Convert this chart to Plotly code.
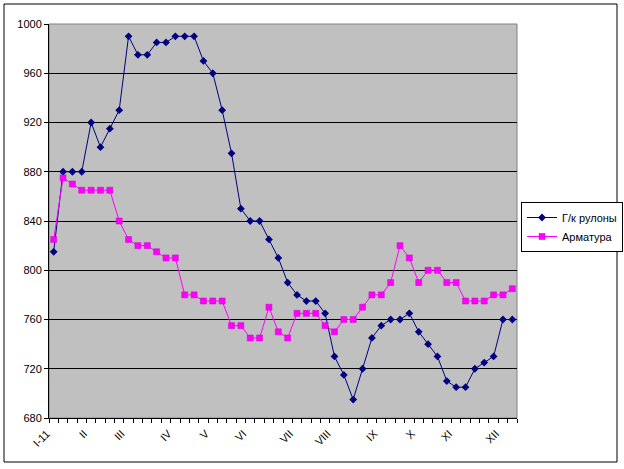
import plotly.graph_objects as go

# Data (weekly, 2011)
week_index = list(range(50))
hot_rolled = [815, 880, 880, 880, 920, 900, 915, 930, 990, 975,
              975, 985, 985, 990, 990, 990, 970, 960, 930, 895,
              850, 840, 840, 825, 810, 790, 780, 775, 775, 765,
              730, 715, 695, 720, 745, 755, 760, 760, 765, 750,
              740, 730, 710, 705, 705, 720, 725, 730, 760, 760]
rebar = [825, 875, 870, 865, 865, 865, 865, 840, 825, 820,
         820, 815, 810, 810, 780, 780, 775, 775, 775, 755,
         755, 745, 745, 770, 750, 745, 765, 765, 765, 755,
         750, 760, 760, 770, 780, 780, 790, 820, 810, 790,
         800, 800, 790, 790, 775, 775, 775, 780, 780, 785]
month_pos = [0, 4, 8, 13, 17, 21, 26, 30, 35, 39, 43, 48]
month_labels = ["I-11", "II", "III", "IV", "V", "VI", "VII", "VIII", "IX", "X", "XI", "XII"]
y_ticks = [680, 720, 760, 800, 840, 880, 920, 960, 1000]

FONT = "Liberation Sans, Arial, sans-serif"

fig = go.Figure()
fig.add_trace(go.Scatter(
    x=week_index, y=hot_rolled, name="Г/к рулоны", mode="lines+markers",
    line=dict(color="#000080", width=1),
    marker=dict(symbol="diamond", size=6, color="#000080"),
))
fig.add_trace(go.Scatter(
    x=week_index, y=rebar, name="Арматура", mode="lines+markers",
    line=dict(color="#FF00FF", width=1),
    marker=dict(symbol="square", size=6, color="#FF00FF",
                line=dict(color="#CC00CC", width=0.5)),
))

L, R, T, B = 49, 517, 24, 418
W, H = 624, 469

def px_x(p):
    return (p - L) / (R - L)

def px_y(p):
    return (B - p) / (B - T)

fig.update_layout(
    width=W, height=H,
    margin=dict(l=L, r=W - R, t=T, b=H - B, autoexpand=False),
    paper_bgcolor="white",
    plot_bgcolor="#C0C0C0",
    font=dict(family=FONT, size=11, color="black"),
    showlegend=True,
    legend=dict(
        x=px_x(521), y=px_y(202), xanchor="left", yanchor="top",
        bordercolor="black", borderwidth=1, bgcolor="white",
        font=dict(family=FONT, size=11, color="black"),
        itemwidth=30, tracegroupgap=0,
    ),
    xaxis=dict(
        range=[-0.5, 49.5], tickmode="array", tickvals=month_pos, ticktext=month_labels,
        tickangle=-45, ticks="", showgrid=False, zeroline=False, automargin=False,
        ticklabelshift=-7, ticklabelstandoff=4,
        showline=True, linecolor="black", linewidth=1,
        minor=dict(tick0=-0.5, dtick=1, ticks="outside", ticklen=4,
                   tickcolor="black", tickwidth=1, showgrid=False),
        tickfont=dict(family=FONT, size=11, color="black"),
    ),
    yaxis=dict(
        range=[680, 1000], tickmode="array", tickvals=y_ticks,
        ticks="outside", ticklen=4, tickcolor="black", automargin=False,
        showgrid=True, gridcolor="black", gridwidth=1, zeroline=False,
        showline=True, linecolor="black", linewidth=1,
        tickfont=dict(family=FONT, size=11, color="black"),
    ),
    shapes=[
        dict(type="rect", xref="paper", yref="paper", x0=0, y0=0, x1=1, y1=1,
             line=dict(color="#808080", width=1), layer="below"),
        dict(type="rect", xref="paper", yref="paper",
             x0=px_x(4), y0=px_y(462), x1=px_x(617), y1=px_y(4),
             line=dict(color="black", width=1), layer="above"),
    ],
)

fig.write_html(
    "out.html",
    config={"displayModeBar": False},
    post_script="document.body.style.margin='0';document.body.style.overflow='hidden';",
)
